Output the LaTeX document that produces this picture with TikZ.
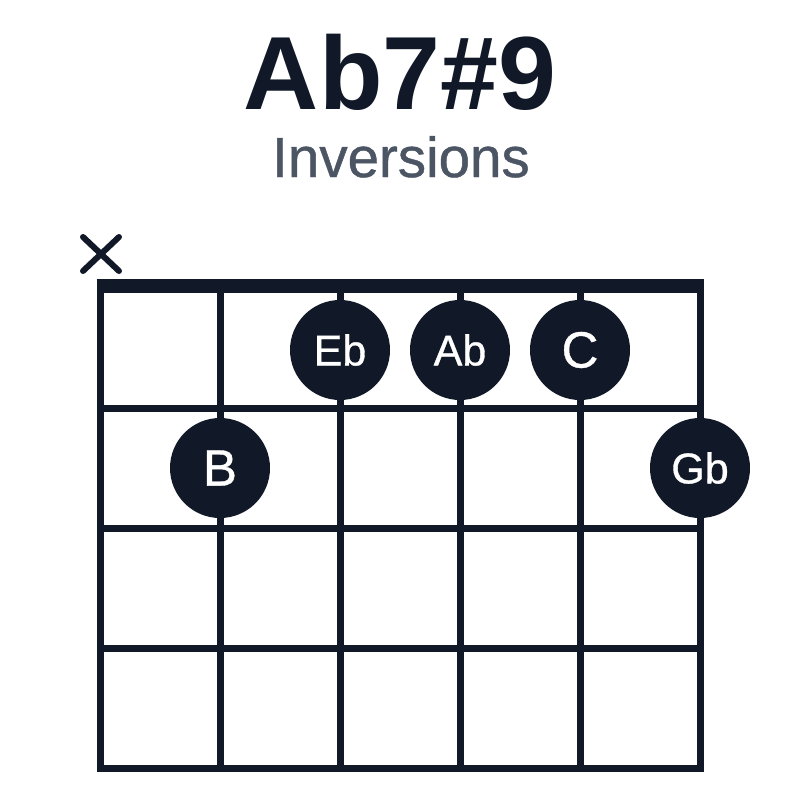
\documentclass[tikz,border=0pt]{standalone}
\usepackage{fontspec}
\setmainfont{Liberation Sans}
\newfontfamily\medfont[FakeBold=0.8]{Liberation Sans}
\usetikzlibrary{calc}
\definecolor{ink}{HTML}{111827}
\definecolor{sub}{HTML}{4B5563}
\tikzset{
  gridline/.style={draw=ink, line width=7pt},
  nutline/.style={draw=ink, line width=14pt},
  notedot/.style={circle, fill=ink, minimum size=100pt, inner sep=0pt, text=white},
  twolab/.style={font=\medfont\fontsize{43}{48}\selectfont},
  onelab/.style={font=\medfont\fontsize{51}{56}\selectfont},
  mutemark/.style={draw=ink, line width=6pt, line cap=round},
}
\begin{document}
\begin{tikzpicture}[x=1pt, y=-1pt]
\useasboundingbox (0,0) rectangle (800,800);
\fill[white] (0,0) rectangle (800,800);
% title
\node[anchor=base, text=ink, font=\bfseries\fontsize{104}{120}\selectfont, inner sep=0pt] (title) at (400,109) {Ab7\#9};
\node[anchor=base, text=sub, font=\medfont\fontsize{56.5}{62}\selectfont, inner sep=0pt] (subtitle) at (401,177) {Inversions};
% strings
\foreach \x in {100,220,340,460,580,700} {
  \draw[gridline] (\x,286) -- (\x,771.5);
}
% frets
\foreach \y in {408,528,648,768} {
  \draw[gridline] (96.5,\y) -- (703.5,\y);
}
% nut
\draw[nutline] (96.5,286) -- (703.5,286);
% mute mark
\coordinate (mc) at (101,254);
\draw[mutemark] ($(mc)+(-18,-17)$) -- ($(mc)+(18,17)$);
\draw[mutemark] ($(mc)+(-18,17)$) -- ($(mc)+(18,-17)$);
% notes
\node[notedot, twolab] (eb) at (340,350) {Eb};
\node[notedot, twolab] (ab) at (460,350) {Ab};
\node[notedot, onelab] (c) at (580,350) {C};
\node[notedot, onelab] (b) at (220,468) {B};
\node[notedot, twolab] (gb) at (700,468) {Gb};
\end{tikzpicture}
\end{document}
